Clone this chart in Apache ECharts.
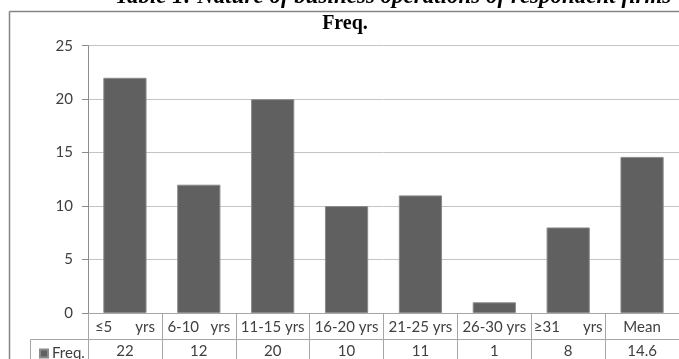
<!DOCTYPE html>
<html>
<head>
<meta charset="utf-8">
<script src="https://cdn.jsdelivr.net/npm/echarts@6/dist/echarts.min.js"></script>
<style>
  html, body { margin: 0; padding: 0; background: #ffffff; }
  #chart { width: 679px; height: 359px; }
</style>
</head>
<body>
<div id="chart"></div>
<script>
// Firm age groups and respondent counts
const categories = ['≤5      yrs', '6-10   yrs', '11-15 yrs', '16-20 yrs', '21-25 yrs', '26-30 yrs', '≥31      yrs', 'Mean'];
const freqValues = [22, 12, 20, 10, 11, 1, 8, 14.6];
const seriesName = 'Freq.';
const yTicks = { min: 0, max: 25, interval: 5 };

const labelFont = 'Lato, "Open Sans", sans-serif';
const tableLine = '#a6a6a6';

const chart = echarts.init(document.getElementById('chart'), null, { renderer: 'canvas' });

chart.setOption({
  animation: false,
  backgroundColor: '#ffffff',
  title: {
    text: seriesName,
    left: 340,
    textAlign: 'center',
    top: 9,
    textStyle: { fontFamily: '"Liberation Serif", serif', fontWeight: 'bold', fontSize: 20, color: '#000' }
  },
  legend: {
    show: true,
    left: 34,
    top: 341,
    itemWidth: 8,
    itemHeight: 8,
    itemGap: 4,
    icon: 'rect',
    selectedMode: false,
    textStyle: { fontFamily: labelFont, fontSize: 15, color: '#404040', padding: [0, 0, 0, -1] },
    data: [seriesName]
  },
  grid: { left: 88, top: 45.7, width: 594.6, height: 267.6, containLabel: false },
  xAxis: [
    {
      type: 'category',
      data: categories,
      position: 'bottom',
      axisLine: { show: true, lineStyle: { color: tableLine, width: 1 } },
      axisTick: { show: true, alignWithLabel: false, inside: false, length: 46, lineStyle: { color: tableLine, width: 1 } },
      axisLabel: { margin: 7, fontFamily: labelFont, fontSize: 15, color: '#404040', interval: 0 },
      splitLine: { show: false }
    },
    {
      type: 'category',
      data: freqValues.map(String),
      position: 'bottom',
      offset: 26,
      axisLine: { show: false },
      axisTick: { show: false },
      axisLabel: { margin: 5, fontFamily: labelFont, fontSize: 15, color: '#404040', interval: 0 },
      splitLine: { show: false }
    }
  ],
  yAxis: {
    type: 'value',
    min: yTicks.min,
    max: yTicks.max,
    interval: yTicks.interval,
    axisLine: { show: true, lineStyle: { color: '#8c8c8c', width: 1 } },
    axisTick: { show: true, length: 6, lineStyle: { color: '#8c8c8c' } },
    axisLabel: { margin: 15, fontFamily: labelFont, fontSize: 15, color: '#404040' },
    splitLine: { show: true, lineStyle: { color: '#c4c4c4', width: 1 } }
  },
  series: [{
    name: seriesName,
    type: 'bar',
    data: freqValues,
    xAxisIndex: 0,
    barWidth: '58.5%',
    itemStyle: { color: '#606060', borderColor: '#8a8a8a', borderWidth: 1 }
  }],
  graphic: [
    // caption above the chart frame
    {
      type: 'text',
      left: 115,
      top: -14,
      style: {
        text: 'Table 1: Nature of business operations of respondent firms',
        font: 'italic bold 23px "Liberation Serif", serif',
        fill: '#000'
      }
    },
    // chart frame (left and top edges)
    { type: 'line', shape: { x1: 9.5, y1: 11.5, x2: 9.5, y2: 359 }, style: { stroke: '#858585', lineWidth: 1.5 } },
    { type: 'line', shape: { x1: 9.5, y1: 11.5, x2: 679, y2: 11.5 }, style: { stroke: '#858585', lineWidth: 1.5 } },
    // data table: row divider and legend cell edge
    { type: 'line', shape: { x1: 30.5, y1: 339.5, x2: 679, y2: 339.5 }, style: { stroke: tableLine, lineWidth: 1 } },
    { type: 'line', shape: { x1: 30.5, y1: 339.5, x2: 30.5, y2: 359 }, style: { stroke: tableLine, lineWidth: 1 } },
    { type: 'line', shape: { x1: 88.5, y1: 313, x2: 88.5, y2: 359 }, style: { stroke: tableLine, lineWidth: 1 } }
  ]
});
</script>
</body>
</html>
